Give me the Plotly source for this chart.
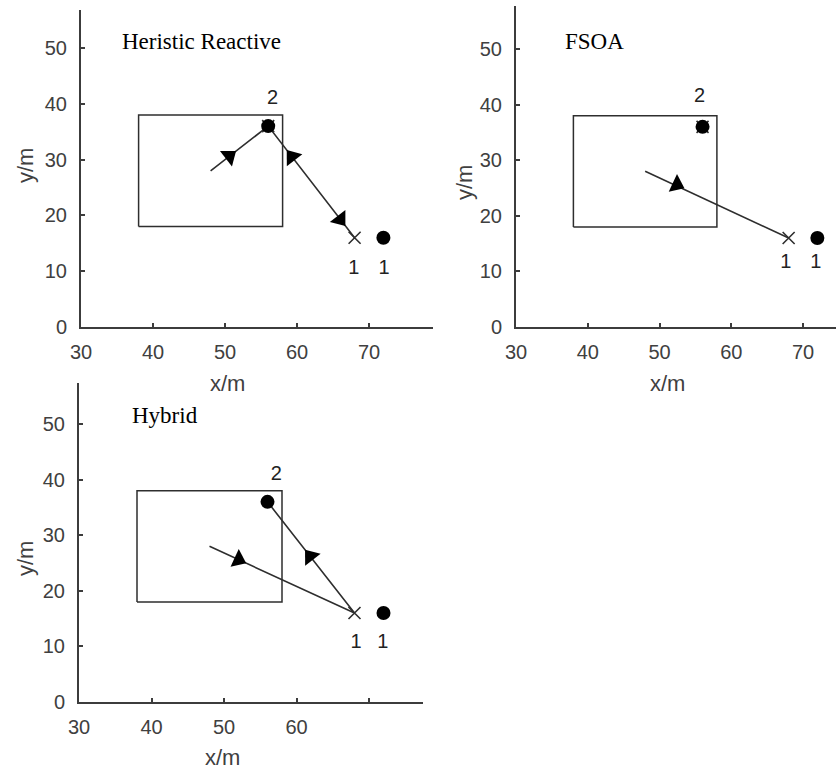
import math
import plotly.graph_objects as go

W, H = 836, 772

# ---------------- data ----------------
x_tick_vals = [30, 40, 50, 60, 70]
y_tick_vals = [0, 10, 20, 30, 40, 50]
panel_titles = ["Heristic Reactive", "FSOA", "Hybrid"]

obstacle_x = [38, 58]
obstacle_y = [18, 38]

target_x = [72, 56]
target_y = [16, 36]

# Heristic Reactive
hr_path_x = [48, 56, 68]
hr_path_y = [28, 36, 16]
hr_arrow_x = [50.6, 59.3, 66.0]
hr_arrow_y = [30.6, 30.5, 19.3]
hr_arrow_dir = [1, -1, 1]
hr_cross_x = [68, 56]
hr_cross_y = [16, 36]
hr_label_text = ["1", "1", "2"]
hr_label_x = [67.9, 72.1, 56.6]
hr_label_y = [10.4, 10.4, 40.9]

# FSOA
fs_path_x = [48, 68]
fs_path_y = [28, 16]
fs_arrow_x = [52.4]
fs_arrow_y = [25.6]
fs_arrow_dir = [1]
fs_cross_x = [68, 56]
fs_cross_y = [16, 36]
fs_label_text = ["1", "1", "2"]
fs_label_x = [67.6, 71.8, 55.6]
fs_label_y = [11.6, 11.6, 41.3]

# Hybrid
hy_path_x = [48, 68, 56]
hy_path_y = [28, 16, 36]
hy_arrow_x = [52.0, 61.9]
hy_arrow_y = [25.6, 26.2]
hy_arrow_dir = [1, 1]
hy_cross_x = [68]
hy_cross_y = [16]
hy_label_text = ["1", "1", "2"]
hy_label_x = [68.2, 71.9, 57.2]
hy_label_y = [10.6, 10.6, 40.8]

x_ticktext_full = ["30", "40", "50", "60", "70"]
x_ticktext_hybrid = ["30", "40", "50", "60", ""]

# ---------------- layout geometry (pixels) ----------------
panels = [
    dict(xl=81, xr=433, xmax=30 + 352 / 7.2, yt=10, yb=327, ymax=317 / 5.58),
    dict(xl=516, xr=836, xmax=30 + 320 / 7.175, yt=6, yb=327, ymax=321 / 5.56),
    dict(xl=79, xr=423, xmax=30 + 344 / 7.25, yt=383, yb=702, ymax=319 / 5.56),
]

data_sets = [
    (hr_path_x, hr_path_y, hr_arrow_x, hr_arrow_y, hr_arrow_dir, hr_cross_x, hr_cross_y,
     hr_label_text, hr_label_x, hr_label_y, x_ticktext_full),
    (fs_path_x, fs_path_y, fs_arrow_x, fs_arrow_y, fs_arrow_dir, fs_cross_x, fs_cross_y,
     fs_label_text, fs_label_x, fs_label_y, x_ticktext_full),
    (hy_path_x, hy_path_y, hy_arrow_x, hy_arrow_y, hy_arrow_dir, hy_cross_x, hy_cross_y,
     hy_label_text, hy_label_x, hy_label_y, x_ticktext_hybrid),
]

title_pos = [(35.4, 51.1), (36.6, 51.3), (37.0, 51.6)]
xlabel_pos = [(227, 383), (667, 383), (223, 757)]
ylabel_pos = [(25, 166), (465, 183), (25, 559)]

AX = "#3c3c3c"
LINE = "#2e2e2e"
TICKFONT = dict(family="Liberation Sans, Arial, sans-serif", size=20, color="#404040")

fig = go.Figure()
layout = dict(
    width=W, height=H, margin=dict(l=0, r=0, t=0, b=0, autoexpand=False),
    paper_bgcolor="white", plot_bgcolor="white", showlegend=False,
)
annotations = []


def nearest_segment(px, py, ax, ay):
    best, bi = 1e18, 0
    for i in range(len(px) - 1):
        x0, y0, x1, y1 = px[i], py[i], px[i + 1], py[i + 1]
        dx, dy = x1 - x0, y1 - y0
        t = max(0, min(1, ((ax - x0) * dx + (ay - y0) * dy) / (dx * dx + dy * dy)))
        d = (x0 + t * dx - ax) ** 2 + (y0 + t * dy - ay) ** 2
        if d < best:
            best, bi = d, i
    return bi


for k, (p, ds) in enumerate(zip(panels, data_sets)):
    (px, py, axr, ayr, adir, cx, cy, lt, lx, ly, xtt) = ds
    n = "" if k == 0 else str(k + 1)
    xa, ya = "x" + n, "y" + n
    sx = (p["xr"] - p["xl"]) / (p["xmax"] - 30)
    sy = (p["yb"] - p["yt"]) / p["ymax"]

    layout["xaxis" + n] = dict(
        domain=[p["xl"] / W, p["xr"] / W], range=[30, p["xmax"]], anchor=ya,
        automargin=False,
        showgrid=False, zeroline=False, showline=True, linecolor=AX, linewidth=2,
        ticks="inside", ticklen=4, tickwidth=1.5, tickcolor=AX,
        tickvals=x_tick_vals, ticktext=xtt, tickfont=TICKFONT, ticklabelstandoff=6,
    )
    layout["yaxis" + n] = dict(
        domain=[1 - p["yb"] / H, 1 - p["yt"] / H], range=[0, p["ymax"]], anchor=xa,
        automargin=False,
        showgrid=False, zeroline=False, showline=True, linecolor=AX, linewidth=2,
        ticks="inside", ticklen=4, tickwidth=1.5, tickcolor=AX,
        tickvals=y_tick_vals, tickfont=TICKFONT, ticklabelstandoff=8,
    )

    rx = [obstacle_x[0], obstacle_x[1], obstacle_x[1], obstacle_x[0], obstacle_x[0]]
    ry = [obstacle_y[0], obstacle_y[0], obstacle_y[1], obstacle_y[1], obstacle_y[0]]
    fig.add_trace(go.Scatter(x=rx, y=ry, mode="lines", line=dict(color=LINE, width=1.5),
                             xaxis=xa, yaxis=ya, hoverinfo="skip"))
    fig.add_trace(go.Scatter(x=px, y=py, mode="lines", line=dict(color=LINE, width=1.6),
                             xaxis=xa, yaxis=ya, hoverinfo="skip"))
    angles = []
    for ax_, ay_, d in zip(axr, ayr, adir):
        i = nearest_segment(px, py, ax_, ay_)
        dx = (px[i + 1] - px[i]) * d * sx
        dy = (py[i + 1] - py[i]) * d * sy
        angles.append(math.degrees(math.atan2(dx, dy)))
    fig.add_trace(go.Scatter(x=axr, y=ayr, mode="markers",
                             marker=dict(symbol="triangle-up", size=17, color="black",
                                         angle=angles, line=dict(width=0)),
                             xaxis=xa, yaxis=ya, hoverinfo="skip"))
    fig.add_trace(go.Scatter(x=cx, y=cy, mode="markers",
                             marker=dict(symbol="x-thin", size=12,
                                         line=dict(color=LINE, width=1.6)),
                             xaxis=xa, yaxis=ya, hoverinfo="skip"))
    fig.add_trace(go.Scatter(x=target_x, y=target_y, mode="markers",
                             marker=dict(symbol="circle", size=14, color="black"),
                             xaxis=xa, yaxis=ya, hoverinfo="skip"))
    fig.add_trace(go.Scatter(x=lx, y=ly, mode="text", text=lt,
                             textfont=dict(family="Liberation Sans, Arial, sans-serif",
                                           size=20, color="#222222"),
                             xaxis=xa, yaxis=ya, hoverinfo="skip"))

    tx, ty = title_pos[k]
    annotations.append(dict(x=tx, y=ty, xref=xa, yref=ya, text=panel_titles[k],
                            showarrow=False, xanchor="left", yanchor="middle",
                            font=dict(family="Liberation Serif, Times New Roman, serif",
                                      size=23, color="black")))
    xlx, xly = xlabel_pos[k]
    annotations.append(dict(x=xlx / W, y=1 - xly / H, xref="paper", yref="paper",
                            text="x/m", showarrow=False, xanchor="center", yanchor="middle",
                            font=dict(family="Liberation Sans, Arial, sans-serif",
                                      size=22, color="#404040")))
    ylx, yly = ylabel_pos[k]
    annotations.append(dict(x=ylx / W, y=1 - yly / H, xref="paper", yref="paper",
                            text="y/m", showarrow=False, xanchor="center", yanchor="middle",
                            textangle=-90,
                            font=dict(family="Liberation Sans, Arial, sans-serif",
                                      size=22, color="#404040")))

layout["annotations"] = annotations
fig.update_layout(**layout)
fig.write_html("out.html")
